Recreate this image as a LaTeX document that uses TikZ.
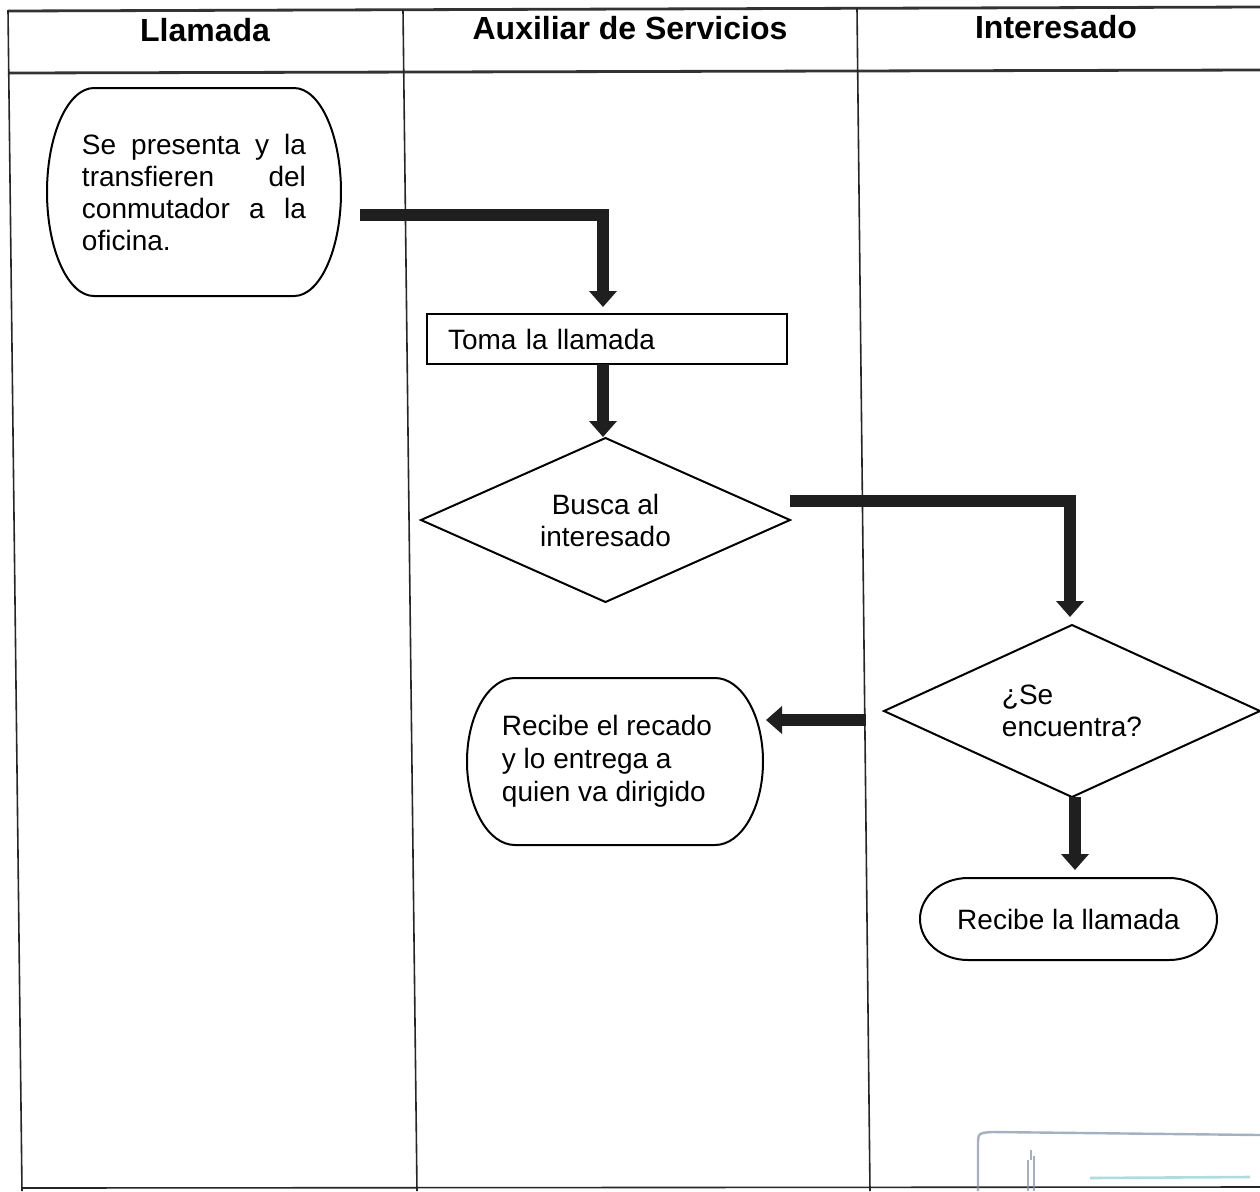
\documentclass[tikz,border=0pt]{standalone}
\usepackage{fontspec}
\setmainfont{Liberation Sans}
\usetikzlibrary{arrows.meta,calc}
\definecolor{stampblue}{RGB}{125,145,168}
\definecolor{stampteal}{RGB}{140,205,205}
% outline of a flowchart terminator drawn around a named node:
% #1 node, #2 horizontal radius of the rounded ends, #3 half height
\newcommand\termoutline[3]{%
  \draw[shapeline] ([xshift=#2]#1.north west) -- ([xshift=-#2]#1.north east)
    arc[start angle=90,end angle=-90,x radius=#2,y radius=#3]
    -- ([xshift=#2]#1.south west)
    arc[start angle=270,end angle=90,x radius=#2,y radius=#3] -- cycle;}
\newcommand\diamondoutline[1]{%
  \draw[shapeline] (#1.north) -- (#1.east) -- (#1.south) -- (#1.west) -- cycle;}
\begin{document}
\begin{tikzpicture}[x=0.5pt,y=-0.5pt,
  gridline/.style={line width=0.8pt, draw=black!85},
  gridbold/.style={line width=1.4pt, draw=black!80},
  shapeline/.style={line width=1pt, draw=black},
  flow/.style={line width=6.3pt, draw=black!88, line join=miter,
    -{Triangle[width=13.5pt,length=8pt]}},
  lanetitle/.style={font=\bfseries\fontsize{16}{19}\selectfont},
  body/.style={font=\fontsize{14}{16}\selectfont},
  holder/.style={inner sep=0pt, outer sep=0pt},
  stamp/.style={line width=1.2pt, draw=stampblue, opacity=0.7}]
\useasboundingbox (0,0) rectangle (1260,1191);
\fill[white] (0,0) rectangle (1260,1191);

% swimlane table
\draw[gridbold] (8,11) -- (1260,7);
\draw[gridbold] (9,73) -- (1260,70);
\draw[gridline] (8,10) -- (22,1191);
\draw[gridline] (403,10) -- (417,1191);
\draw[gridline] (857,8) -- (870,1191);
\draw[gridline] (22,1188) -- (1260,1187);

% lane titles
\node[lanetitle] (lane1) at (205,30) {Llamada};
\node[lanetitle] (lane2) at (630,28) {Auxiliar de Servicios};
\node[lanetitle] (lane3) at (1056,27) {Interesado};

% Llamada
\node[holder, body, minimum width=147pt, minimum height=104pt, align=left] (inicio) at (194,192)
  {\makebox[112pt][s]{Se presenta y la}\\
   \makebox[112pt][s]{transfieren del}\\
   \makebox[112pt][s]{conmutador a la}\\
   oficina.};
\termoutline{inicio}{23.5pt}{52pt}

% Auxiliar de Servicios
\node[holder, draw, line width=1pt, body, minimum width=180pt, minimum height=25pt,
      text width=159pt, inner xsep=10.5pt, align=left] (toma) at (607,339) {Toma la llamada};

\node[holder, body, minimum width=184.5pt, minimum height=82pt, align=center] (busca) at (605.5,520)
  {Busca al\\interesado};
\diamondoutline{busca}

\node[holder, body, minimum width=148pt, minimum height=83.5pt, align=left,
      font=\fontsize{14}{16.5}\selectfont] (recado) at (615,761.5)
  {\hspace*{-8pt}Recibe el recado\\\hspace*{-8pt}y lo entrega a\\\hspace*{-8pt}quien va dirigido};
\termoutline{recado}{24pt}{41.75pt}

% Interesado
\node[holder, body, minimum width=188pt, minimum height=86pt, align=left] (encuentra) at (1072,711)
  {¿Se\\encuentra?};
\diamondoutline{encuentra}

\node[holder, body, minimum width=148.5pt, minimum height=41pt] (llamada) at (1068.5,919)
  {Recibe la llamada};
\termoutline{llamada}{24pt}{20.5pt}

% connectors
\coordinate (c1) at (360,215);
\draw[flow, shorten >=3.5pt] (c1) -| ([xshift=-2pt]toma.north);
\draw[flow, shorten >=0.5pt] ([xshift=-2pt]toma.south) -- ([xshift=-2pt]toma.south |- busca.north);
\coordinate (c3) at (790,501);
\draw[flow, shorten >=4pt] (c3) -| ([xshift=-1pt]encuentra.north);
\coordinate (c4) at (866,720);
\draw[flow, shorten >=1.5pt] (c4) -- (c4 -| recado.east);
\draw[flow, shorten >=4pt] ([xshift=1.5pt]encuentra.south) -- ([xshift=1.5pt]encuentra.south |- llamada.north);

% faint stamp in the lower right corner
\draw[stamp] (978,1191) -- (978,1146) .. controls (978,1133) .. (992,1132) -- (1260,1135);
\draw[stamp, line width=0.8pt] (1028,1191) -- (1028,1160) (1034,1191) -- (1034,1156)
  (1031,1160) -- (1031,1150);
\draw[stamp, draw=stampteal, line width=1.3pt] (1090,1178) -- (1250,1177);
\end{tikzpicture}
\end{document}
